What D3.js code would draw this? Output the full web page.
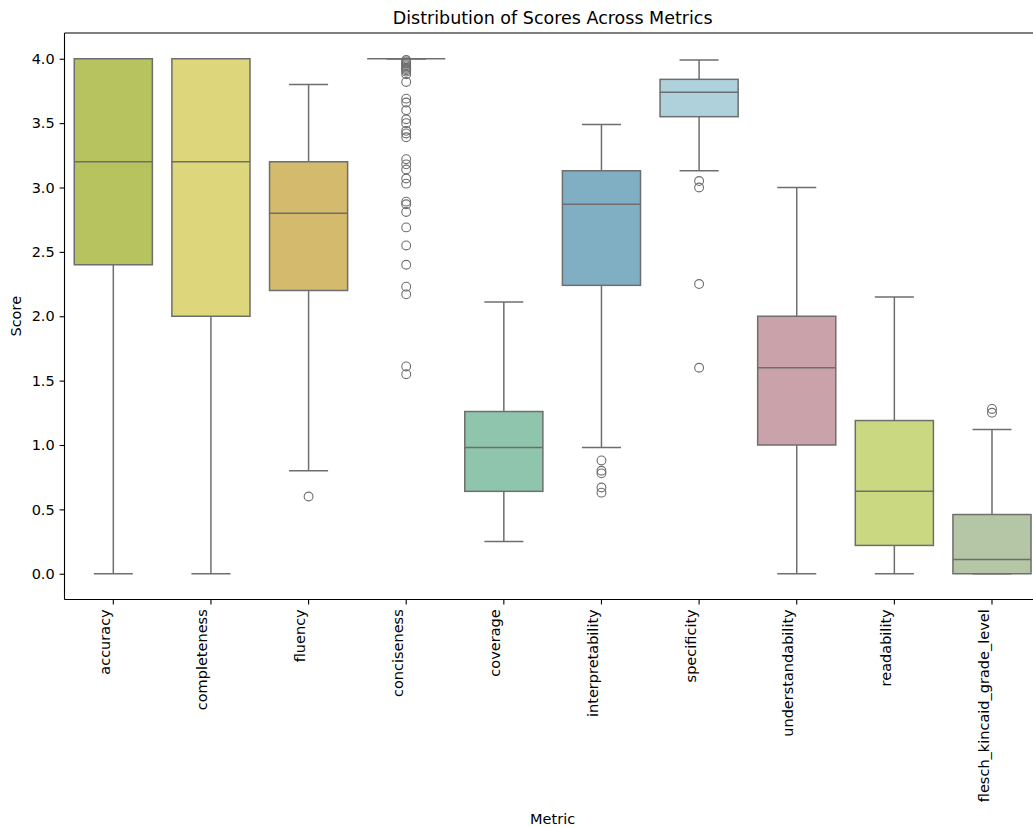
<!DOCTYPE html>
<html>
<head>
<meta charset="utf-8">
<script src="https://cdn.jsdelivr.net/npm/d3@7"></script>
<style>
  html, body { margin: 0; padding: 0; background: #fff; }
  svg { display: block; font-family: "DejaVu Sans", sans-serif; }
</style>
</head>
<body>
<svg id="chart" width="1033" height="827"></svg>
<script>
// Metric names along the x axis
const metrics = ["accuracy", "completeness", "fluency", "conciseness", "coverage",
  "interpretability", "specificity", "understandability", "readability", "flesch_kincaid_grade_level"];

// Five-number summaries per metric (whisker ends, quartiles, median)
const whiskerLow  = [0.0, 0.0, 0.8, 4.0, 0.25, 0.98, 3.13, 0.0, 0.0, 0.0];
const q1          = [2.4, 2.0, 2.2, 4.0, 0.64, 2.24, 3.55, 1.0, 0.22, 0.0];
const median      = [3.2, 3.2, 2.8, 4.0, 0.98, 2.87, 3.74, 1.6, 0.64, 0.11];
const q3          = [4.0, 4.0, 3.2, 4.0, 1.26, 3.13, 3.84, 2.0, 1.19, 0.46];
const whiskerHigh = [4.0, 4.0, 3.8, 4.0, 2.11, 3.49, 3.99, 3.0, 2.15, 1.12];

// Points beyond the whiskers
const outliers = [
  [],
  [],
  [0.6],
  [3.99, 3.98, 3.97, 3.96, 3.95, 3.94, 3.93, 3.92, 3.91, 3.90, 3.88, 3.82, 3.69, 3.66, 3.60,
   3.53, 3.50, 3.44, 3.42, 3.39, 3.22, 3.18, 3.14, 3.07, 3.03, 2.89, 2.87, 2.81, 2.69,
   2.55, 2.40, 2.23, 2.17, 1.61, 1.55],
  [],
  [0.88, 0.80, 0.78, 0.67, 0.63],
  [3.05, 3.00, 2.25, 1.60],
  [],
  [],
  [1.28, 1.25]
];

// Box fill colours
const boxColors = ["#b6c35f", "#ddd67b", "#d3ba6c", "#e0a371", "#8fc5ad",
  "#80afc3", "#aed1db", "#c9a3a9", "#cbd882", "#b5c6a7"];

const yTicks = [0.0, 0.5, 1.0, 1.5, 2.0, 2.5, 3.0, 3.5, 4.0];

const svg = d3.select("#chart");
const lineColor = "#6e6e6e";
const tickFont = "14.5px";

const plot = { left: 64.5, right: 1040.8, top: 33, bottom: 599.5 };

const x = d3.scaleBand().domain(metrics).range([plot.left, plot.right]).padding(0);
const y = d3.scaleLinear().domain([-0.2, 4.2]).range([plot.bottom, plot.top]);

const bw = x.bandwidth() * 0.8;
const capW = bw * 0.5;

const data = metrics.map((m, i) => ({
  m, lo: whiskerLow[i], q1: q1[i], med: median[i], q3: q3[i], hi: whiskerHigh[i],
  out: outliers[i], color: boxColors[i]
}));

const g = svg.append("g");

const boxes = g.selectAll("g.box").data(data).enter().append("g")
  .attr("class", "box")
  .attr("transform", d => `translate(${x(d.m) + x.bandwidth() / 2},0)`);

// whiskers
boxes.append("line")
  .attr("x1", 0).attr("x2", 0)
  .attr("y1", d => y(d.q1)).attr("y2", d => y(d.lo))
  .attr("stroke", lineColor).attr("stroke-width", 1.5);
boxes.append("line")
  .attr("x1", 0).attr("x2", 0)
  .attr("y1", d => y(d.q3)).attr("y2", d => y(d.hi))
  .attr("stroke", lineColor).attr("stroke-width", 1.5);

// caps
boxes.append("line")
  .attr("x1", -capW / 2).attr("x2", capW / 2)
  .attr("y1", d => y(d.lo)).attr("y2", d => y(d.lo))
  .attr("stroke", lineColor).attr("stroke-width", 1.5);
boxes.append("line")
  .attr("x1", -capW / 2).attr("x2", capW / 2)
  .attr("y1", d => y(d.hi)).attr("y2", d => y(d.hi))
  .attr("stroke", lineColor).attr("stroke-width", 1.5);

// box
boxes.append("rect")
  .attr("x", -bw / 2).attr("width", bw)
  .attr("y", d => y(d.q3)).attr("height", d => y(d.q1) - y(d.q3))
  .attr("fill", d => d.color)
  .attr("stroke", lineColor).attr("stroke-width", 1.5);

// median
boxes.append("line")
  .attr("x1", -bw / 2).attr("x2", bw / 2)
  .attr("y1", d => y(d.med)).attr("y2", d => y(d.med))
  .attr("stroke", lineColor).attr("stroke-width", 1.5);

// outliers
boxes.selectAll("circle").data(d => d.out).enter().append("circle")
  .attr("cx", 0).attr("cy", v => y(v)).attr("r", 4.4)
  .attr("fill", "none").attr("stroke", lineColor).attr("stroke-width", 1.1);

// axes frame
const frame = svg.append("g").attr("stroke", "#000").attr("stroke-width", 1.1);
frame.append("line").attr("x1", plot.left).attr("x2", plot.right + 2).attr("y1", plot.top).attr("y2", plot.top);
frame.append("line").attr("x1", plot.left).attr("x2", plot.right + 2).attr("y1", plot.bottom).attr("y2", plot.bottom);
frame.append("line").attr("x1", plot.left).attr("x2", plot.left).attr("y1", plot.top).attr("y2", plot.bottom);
frame.append("line").attr("x1", plot.right).attr("x2", plot.right).attr("y1", plot.top).attr("y2", plot.bottom);

// y axis
const yAxis = svg.append("g")
  .attr("transform", `translate(${plot.left},0)`)
  .call(d3.axisLeft(y).tickValues(yTicks).tickFormat(d3.format(".1f")).tickSize(4.9).tickPadding(4.9));
yAxis.select(".domain").remove();
yAxis.selectAll(".tick line").attr("stroke", "#000").attr("stroke-width", 1.1);
yAxis.selectAll(".tick text").attr("font-size", tickFont).attr("fill", "#000")
  .attr("font-family", "DejaVu Sans, sans-serif");

// x axis with vertical labels ending at the tick
const xAxis = svg.append("g")
  .attr("transform", `translate(0,${plot.bottom})`)
  .call(d3.axisBottom(x).tickSize(4.9).tickPadding(0));
xAxis.select(".domain").remove();
xAxis.selectAll(".tick line").attr("stroke", "#000").attr("stroke-width", 1.1);
xAxis.selectAll(".tick text")
  .attr("font-size", tickFont).attr("fill", "#000")
  .attr("font-family", "DejaVu Sans, sans-serif")
  .attr("transform", "rotate(-90)")
  .attr("text-anchor", "end")
  .attr("x", -9.8).attr("y", 0).attr("dy", "-0.24em");

// title and axis labels
svg.append("text")
  .attr("x", (plot.left + plot.right) / 2).attr("y", 24)
  .attr("text-anchor", "middle").attr("font-size", "17.5px").attr("fill", "#000")
  .text("Distribution of Scores Across Metrics");

svg.append("text")
  .attr("x", (plot.left + plot.right) / 2).attr("y", 824)
  .attr("text-anchor", "middle").attr("font-size", tickFont).attr("fill", "#000")
  .text("Metric");

svg.append("text")
  .attr("transform", `translate(21,${(plot.top + plot.bottom) / 2}) rotate(-90)`)
  .attr("text-anchor", "middle").attr("font-size", tickFont).attr("fill", "#000")
  .text("Score");
</script>
</body>
</html>
